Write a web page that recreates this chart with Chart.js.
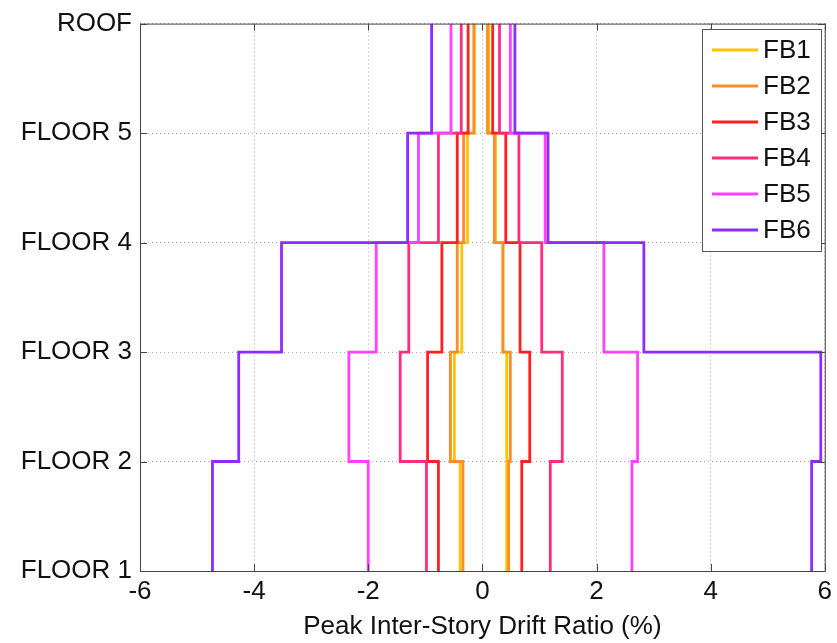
<!DOCTYPE html>
<html>
<head>
<meta charset="utf-8">
<script src="https://cdn.jsdelivr.net/npm/chart.js@4"></script>
<style>
  html, body { margin: 0; padding: 0; background: #fff; }
  #wrap { width: 837px; height: 643px; position: relative; }
</style>
</head>
<body>
<div id="wrap"><canvas id="driftChart"></canvas></div>
<script>
const floors = ['FLOOR 1', 'FLOOR 2', 'FLOOR 3', 'FLOOR 4', 'FLOOR 5', 'ROOF'];
const xTicks = [-6, -4, -2, 0, 2, 4, 6];
const names = ['FB1', 'FB2', 'FB3', 'FB4', 'FB5', 'FB6'];
const colors = ['#ffc400', '#ff8c2a', '#ff2020', '#ff2d7f', '#ff40ff', '#8f2bff'];

// peak drift per story (story 1 .. story 5), negative and positive envelopes
const fb1Neg = [-0.39, -0.49, -0.36, -0.26, -0.14];
const fb1Pos = [0.42, 0.43, 0.36, 0.23, 0.11];
const fb2Neg = [-0.34, -0.56, -0.44, -0.33, -0.15];
const fb2Pos = [0.46, 0.49, 0.36, 0.21, 0.09];
const fb3Neg = [-0.77, -0.96, -0.71, -0.44, -0.25];
const fb3Pos = [0.69, 0.83, 0.66, 0.41, 0.18];
const fb4Neg = [-0.98, -1.44, -1.29, -0.77, -0.37];
const fb4Pos = [1.19, 1.40, 1.04, 0.64, 0.30];
const fb5Neg = [-2.00, -2.34, -1.86, -1.12, -0.55];
const fb5Pos = [2.62, 2.72, 2.13, 1.10, 0.49];
const fb6Neg = [-4.73, -4.27, -3.52, -1.31, -0.89];
const fb6Pos = [5.77, 5.93, 2.83, 1.15, 0.57];

const negs = [fb1Neg, fb2Neg, fb3Neg, fb4Neg, fb5Neg, fb6Neg];
const poss = [fb1Pos, fb2Pos, fb3Pos, fb4Pos, fb5Pos, fb6Pos];

const FONT = 'Liberation Sans, Arial, Helvetica, sans-serif';

// each story value is held from its floor up to the next one
const stairs = vals => {
  const pts = [];
  vals.forEach((v, i) => {
    pts.push({ x: v, y: i });
    pts.push({ x: v, y: i + 1 });
  });
  return pts;
};

const datasets = [];
names.forEach((name, i) => {
  [negs[i], poss[i]].forEach(vals => {
    datasets.push({
      label: name,
      data: stairs(vals),
      borderColor: colors[i],
      backgroundColor: colors[i],
      borderWidth: 2.8,
      pointRadius: 0,
      showLine: true,
      tension: 0,
      order: 6 - i
    });
  });
});

const frame = {
  id: 'frame',
  afterDraw(chart) {
    const { ctx, chartArea: a, scales } = chart;
    ctx.save();
    ctx.strokeStyle = '#444';
    ctx.lineWidth = 1;
    ctx.strokeRect(a.left + 0.5, a.top + 0.5, a.right - a.left, a.bottom - a.top);
    // inward tick marks on all four sides
    ctx.beginPath();
    xTicks.forEach(v => {
      const px = Math.round(scales.x.getPixelForValue(v)) + 0.5;
      ctx.moveTo(px, a.bottom); ctx.lineTo(px, a.bottom - 7);
      ctx.moveTo(px, a.top); ctx.lineTo(px, a.top + 7);
    });
    floors.forEach((f, i) => {
      const py = Math.round(scales.y.getPixelForValue(i)) + 0.5;
      ctx.moveTo(a.left, py); ctx.lineTo(a.left + 7, py);
      ctx.moveTo(a.right, py); ctx.lineTo(a.right - 7, py);
    });
    ctx.stroke();

    // legend box in the upper right corner
    const bx = 702, by = 29, bw = 119, bh = 222;
    ctx.fillStyle = '#fff';
    ctx.fillRect(bx, by, bw, bh);
    ctx.strokeStyle = '#555';
    ctx.strokeRect(bx + 0.5, by + 0.5, bw, bh);
    ctx.font = '26px ' + FONT;
    ctx.textBaseline = 'middle';
    ctx.textAlign = 'left';
    names.forEach((name, i) => {
      const y = by + 21 + i * 36;
      ctx.strokeStyle = colors[i];
      ctx.lineWidth = 2.8;
      ctx.beginPath();
      ctx.moveTo(bx + 10, y); ctx.lineTo(bx + 56, y);
      ctx.stroke();
      ctx.fillStyle = '#111';
      ctx.fillText(name, bx + 61, y + 1);
    });
    ctx.restore();
  }
};

new Chart(document.getElementById('driftChart').getContext('2d'), {
  type: 'scatter',
  data: { datasets },
  options: {
    responsive: true,
    maintainAspectRatio: false,
    animation: false,
    layout: { padding: { top: 21, right: 11, left: 0, bottom: 0 } },
    plugins: {
      legend: { display: false },
      tooltip: { enabled: false }
    },
    scales: {
      x: {
        type: 'linear',
        min: -6,
        max: 6,
        afterBuildTicks: s => { s.ticks = xTicks.map(v => ({ value: v })); },
        afterFit: s => { s.height = 72; },
        grid: { color: '#b0b0b0', borderDash: [1, 3], drawTicks: false, lineWidth: 1 },
        border: { display: false, dash: [1, 3] },
        ticks: { color: '#111', font: { size: 26, family: FONT }, padding: 5 },
        title: {
          display: true,
          text: 'Peak Inter-Story Drift Ratio (%)',
          color: '#111',
          font: { size: 26, family: FONT },
          padding: { top: 0, bottom: 1 }
        }
      },
      y: {
        type: 'linear',
        min: 0,
        max: 5,
        afterBuildTicks: s => { s.ticks = floors.map((f, i) => ({ value: i })); },
        afterFit: s => { s.width = 140; },
        grid: { color: '#b0b0b0', borderDash: [1, 3], drawTicks: false, lineWidth: 1 },
        border: { display: false, dash: [1, 3] },
        ticks: {
          color: '#111',
          font: { size: 26, family: FONT },
          padding: 8,
          callback: v => floors[v]
        }
      }
    }
  },
  plugins: [frame]
});
</script>
</body>
</html>
